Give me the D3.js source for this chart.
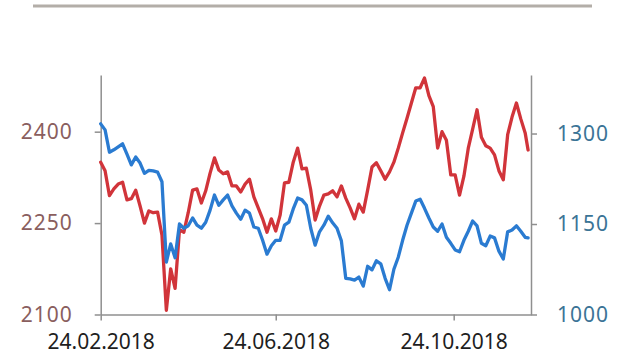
<!DOCTYPE html>
<html>
<head>
<meta charset="utf-8">
<script src="https://cdn.jsdelivr.net/npm/d3@7"></script>
<style>
  html, body { margin: 0; padding: 0; background: #ffffff; }
  svg { display: block; }
</style>
</head>
<body>
<svg id="chart" width="630" height="355"></svg>
<script>
// ---- data ----
const dates = [
  "2018-02-24","2018-02-27","2018-03-02","2018-03-05","2018-03-08","2018-03-11","2018-03-14","2018-03-17","2018-03-20","2018-03-23",
  "2018-03-26","2018-03-29","2018-04-01","2018-04-04","2018-04-07","2018-04-10","2018-04-13","2018-04-16","2018-04-19","2018-04-22",
  "2018-04-25","2018-04-28","2018-05-01","2018-05-04","2018-05-07","2018-05-10","2018-05-13","2018-05-16","2018-05-19","2018-05-22",
  "2018-05-25","2018-05-28","2018-05-31","2018-06-03","2018-06-06","2018-06-09","2018-06-12","2018-06-15","2018-06-18","2018-06-21",
  "2018-06-24","2018-06-27","2018-06-30","2018-07-03","2018-07-06","2018-07-09","2018-07-12","2018-07-15","2018-07-18","2018-07-21",
  "2018-07-24","2018-07-27","2018-07-30","2018-08-02","2018-08-05","2018-08-08","2018-08-11","2018-08-14","2018-08-17","2018-08-20",
  "2018-08-23","2018-08-26","2018-08-29","2018-09-01","2018-09-04","2018-09-07","2018-09-10","2018-09-13","2018-09-16","2018-09-19",
  "2018-09-22","2018-09-25","2018-09-28","2018-10-01","2018-10-04","2018-10-07","2018-10-10","2018-10-13","2018-10-16","2018-10-19",
  "2018-10-22","2018-10-25","2018-10-28","2018-10-31","2018-11-03","2018-11-06","2018-11-09","2018-11-12","2018-11-15","2018-11-18",
  "2018-11-21","2018-11-24","2018-11-27","2018-11-30","2018-12-03","2018-12-06","2018-12-09","2018-12-12","2018-12-14"
];

// red series (left axis)
const redValues = [
  2350,2336,2295,2306,2314,2317,2288,2290,2304,2278,
  2250,2270,2267,2268,2230,2107,2175,2143,2239,2235,
  2267,2304,2306,2283,2303,2332,2357,2337,2331,2334,
  2311,2311,2301,2314,2322,2293,2275,2257,2235,2257,
  2237,2263,2316,2317,2350,2373,2339,2340,2304,2255,
  2278,2296,2298,2303,2293,2311,2291,2275,2257,2281,
  2268,2304,2342,2349,2336,2322,2334,2350,2373,2398,
  2422,2447,2472,2472,2488,2459,2441,2373,2400,2386,
  2329,2329,2296,2327,2373,2404,2436,2391,2377,2373,
  2362,2336,2321,2395,2424,2447,2421,2398,2370
];

// blue series (right axis)
const blueValues = [
  1316,1306,1269,1273,1278,1283,1266,1248,1261,1251,
  1234,1239,1238,1236,1220,1087,1117,1094,1150,1143,
  1147,1160,1148,1143,1153,1173,1198,1181,1190,1198,
  1180,1168,1158,1173,1168,1145,1143,1123,1100,1114,
  1123,1123,1148,1153,1175,1193,1190,1181,1143,1115,
  1137,1148,1163,1152,1143,1122,1060,1059,1057,1062,
  1047,1080,1074,1089,1084,1060,1041,1075,1095,1123,
  1148,1168,1188,1191,1176,1160,1145,1138,1150,1128,
  1118,1107,1104,1123,1138,1155,1147,1118,1114,1130,
  1127,1105,1092,1137,1140,1147,1138,1128,1127
];

const xTickDates = ["2018-02-24","2018-06-24","2018-10-24"];
const xDomain = ["2018-02-24","2018-12-16"];
const leftTicks = [2100, 2250, 2400];
const rightTicks = [1000, 1150, 1300];
const leftDomain = [2100, 2493];
const rightDomain = [1000, 1397];

// ---- drawing ----
const parse = d3.timeParse("%Y-%m-%d");
const fmt = d3.timeFormat("%d.%m.%Y");
const svg = d3.select("#chart");

const plotLeft = 100.7, plotRight = 531, plotTop = 75, plotBottom = 314.5;

const x = d3.scaleTime().domain(xDomain.map(parse)).range([plotLeft, plotRight]);
const yL = d3.scaleLinear().domain(leftDomain).range([plotBottom, plotTop]);
const yR = d3.scaleLinear().domain(rightDomain).range([plotBottom, plotTop]);

// top decorative rule
svg.append("line")
  .attr("x1", 33).attr("x2", 592).attr("y1", 6).attr("y2", 6)
  .attr("stroke", "#b3aea8").attr("stroke-width", 3);

const axisColor = "#8f8f8f";
const font = "'Noto Sans', 'DejaVu Sans', sans-serif";

// left axis
const gL = svg.append("g").attr("transform", `translate(${plotLeft},0)`)
  .call(d3.axisLeft(yL).tickValues(leftTicks).tickFormat(d3.format("d")).tickSize(6).tickPadding(22).tickSizeOuter(0));
gL.selectAll("text").attr("fill", "#8a5e5e").style("font-family", font).style("font-size", "21px").style("letter-spacing", "1px");

// right axis
const gR = svg.append("g").attr("transform", `translate(${plotRight},0)`)
  .call(d3.axisRight(yR).tickValues(rightTicks).tickFormat(d3.format("d")).tickSize(6).tickPadding(20).tickSizeOuter(0));
gR.selectAll("text").attr("fill", "#3b7496").style("font-family", font).style("font-size", "21px").style("letter-spacing", "1px");

// bottom axis
const gB = svg.append("g").attr("transform", `translate(0,${plotBottom})`)
  .call(d3.axisBottom(x).tickValues(xTickDates.map(parse)).tickFormat(fmt).tickSize(6).tickPadding(14).tickSizeOuter(0));
gB.selectAll("text").attr("fill", "#1e1e1e").style("font-family", font).style("font-size", "21px");

[gL, gR, gB].forEach(g => {
  g.select(".domain").attr("stroke", axisColor).attr("stroke-width", 1.5);
  g.selectAll(".tick line").attr("stroke", axisColor).attr("stroke-width", 1.5);
});

const redData = dates.map((d, i) => ({ date: parse(d), v: redValues[i] }));
const blueData = dates.map((d, i) => ({ date: parse(d), v: blueValues[i] }));

svg.append("path").datum(redData)
  .attr("fill", "none").attr("stroke", "#d1343a").attr("stroke-width", 3.3)
  .attr("stroke-linejoin", "round").attr("stroke-linecap", "round")
  .attr("d", d3.line().x(d => x(d.date)).y(d => yL(d.v)));

svg.append("path").datum(blueData)
  .attr("fill", "none").attr("stroke", "#2a7bd1").attr("stroke-width", 3.3)
  .attr("stroke-linejoin", "round").attr("stroke-linecap", "round")
  .attr("d", d3.line().x(d => x(d.date)).y(d => yR(d.v)));
</script>
</body>
</html>
